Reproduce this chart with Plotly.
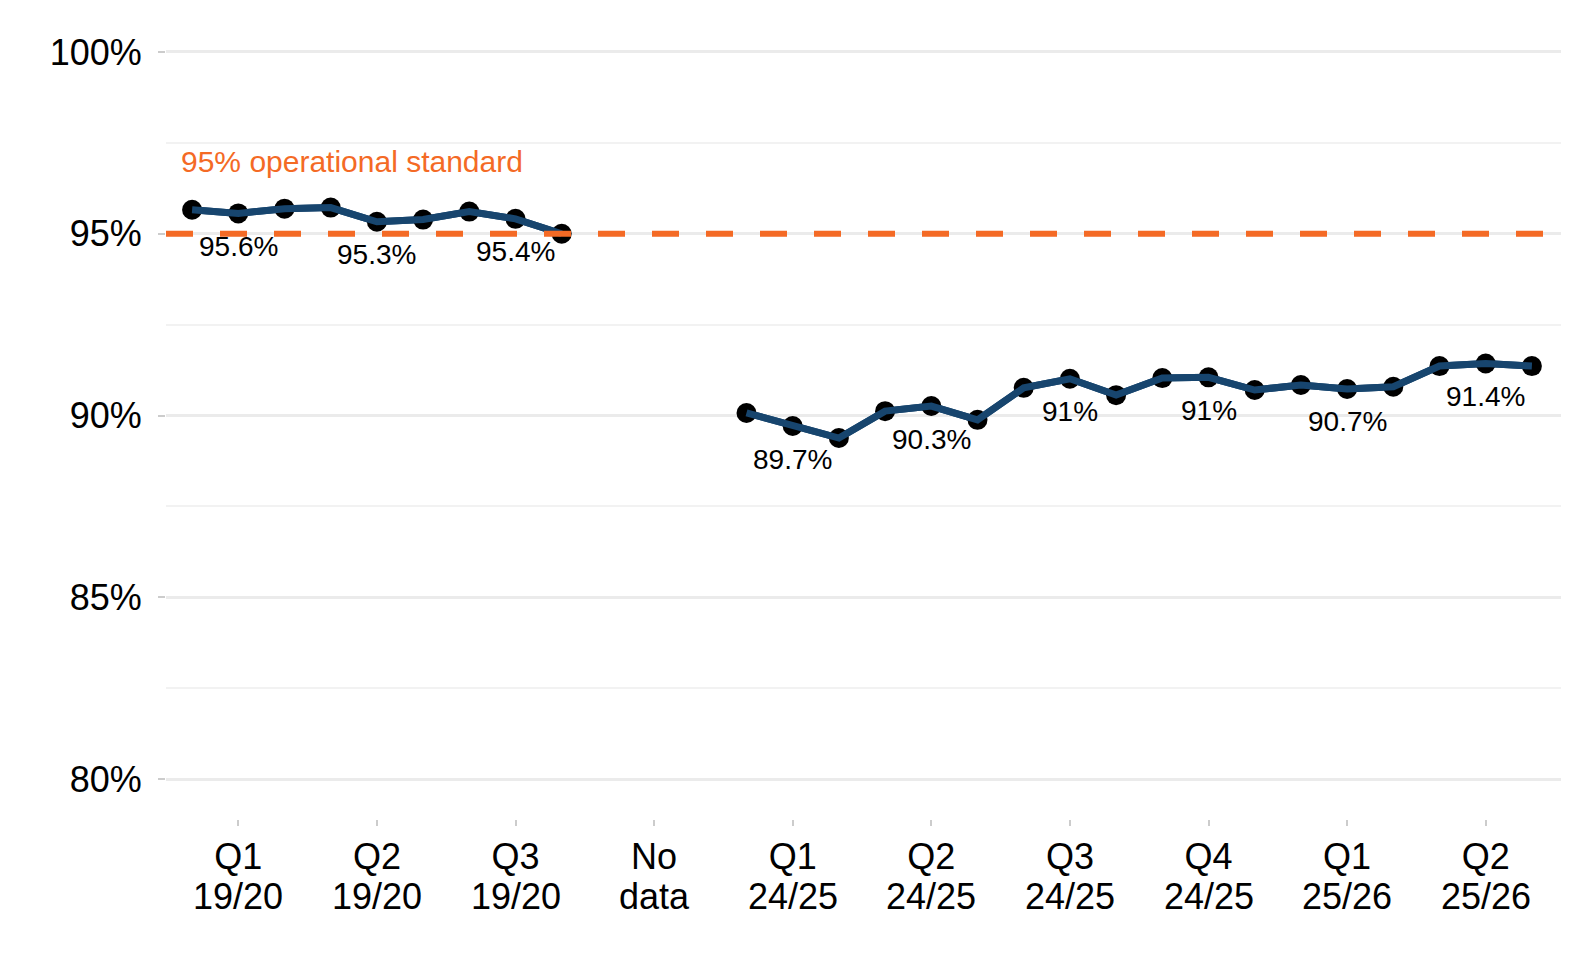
import plotly.graph_objects as go

# Monthly values (%), None = no data
month_index = list(range(30))
values = [95.66, 95.56, 95.69, 95.72, 95.33, 95.39, 95.61, 95.41, 95.0,
          None, None, None,
          90.07, 89.71, 89.38, 90.12, 90.26, 89.88, 90.76, 91.01, 90.56,
          91.03, 91.05, 90.70, 90.84, 90.73, 90.79, 91.36, 91.43, 91.36]
label_index = [1, 4, 7, 13, 16, 19, 22, 25, 28]
tick_index = [1, 4, 7, 10, 13, 16, 19, 22, 25, 28]
tick_line1 = ["Q1", "Q2", "Q3", "No", "Q1", "Q2", "Q3", "Q4", "Q1", "Q2"]
tick_line2 = ["19/20", "19/20", "19/20", "data", "24/25", "24/25", "24/25", "24/25",
              "25/26", "25/26"]
y_ticks = [80, 85, 90, 95, 100]
y_tick_text = ["80%", "85%", "90%", "95%", "100%"]
standard = 95
standard_label = "95% operational standard"

FONT = "Arial, Liberation Sans, sans-serif"
LINE = "#17456E"
ORANGE = "#F46A25"

fig = go.Figure()

fig.add_trace(go.Scatter(
    x=month_index, y=values, mode="lines+markers",
    line=dict(color=LINE, width=7),
    marker=dict(color="black", size=20),
    connectgaps=False, showlegend=False, hoverinfo="skip",
))
# redraw line over markers
fig.add_trace(go.Scatter(
    x=month_index, y=values, mode="lines",
    line=dict(color=LINE, width=7),
    connectgaps=False, showlegend=False, hoverinfo="skip",
))

fig.add_shape(type="line", xref="paper", x0=0, x1=1, yref="y", y0=standard, y1=standard,
              line=dict(color=ORANGE, width=6, dash="27px,27px"), layer="above")

def fmt(v):
    r = round(v, 1)
    s = f"{r:.1f}"
    if s.endswith(".0"):
        s = s[:-2]
    return s + "%"

for i in label_index:
    fig.add_annotation(x=i, y=values[i], text=fmt(values[i]), showarrow=False,
                       yshift=-33, font=dict(family=FONT, size=28, color="black"))

# second line of the x-axis labels (tighter line spacing than <br>)
for xv, t in zip(tick_index, tick_line2):
    fig.add_annotation(x=xv, xref="x", y=0, yref="paper", text=t, showarrow=False,
                       yanchor="middle", yshift=-77,
                       font=dict(family=FONT, size=36, color="black"))

fig.add_annotation(x=-0.28, y=97.0, text=standard_label, showarrow=False,
                   xanchor="left", yanchor="middle",
                   font=dict(family=FONT, size=30, color=ORANGE))

# page body has an 8px margin; keep the figure inside the window
fig.update_layout(
    width=1558, height=944,
    margin=dict(l=158, r=5, t=4, b=133, autoexpand=False),
    plot_bgcolor="white", paper_bgcolor="white",
    font=dict(family=FONT, color="black"),
)
fig.update_xaxes(
    range=[-0.565, 29.63], tickmode="array", tickvals=tick_index, ticktext=tick_line1,
    showgrid=False, zeroline=False, showline=False, automargin=False,
    ticks="outside", ticklen=6, tickwidth=2, tickcolor="#CCCCCC",
    tickfont=dict(family=FONT, size=36, color="black"),
    ticklabelstandoff=0,
)
fig.update_yaxes(
    range=[78.9, 101.1], tickmode="array", tickvals=y_ticks, ticktext=y_tick_text,
    showgrid=True, gridcolor="#EBEBEB", gridwidth=2.5, zeroline=False, showline=False,
    automargin=False,
    ticks="outside", ticklen=7, tickwidth=2, tickcolor="#CCCCCC",
    tickfont=dict(family=FONT, size=36, color="black"),
    ticklabelstandoff=9,
    minor=dict(tickvals=[82.5, 87.5, 92.5, 97.5], showgrid=True, gridcolor="#F2F2F2",
               gridwidth=1.5, ticks=""),
)

fig.write_html("out.html")
